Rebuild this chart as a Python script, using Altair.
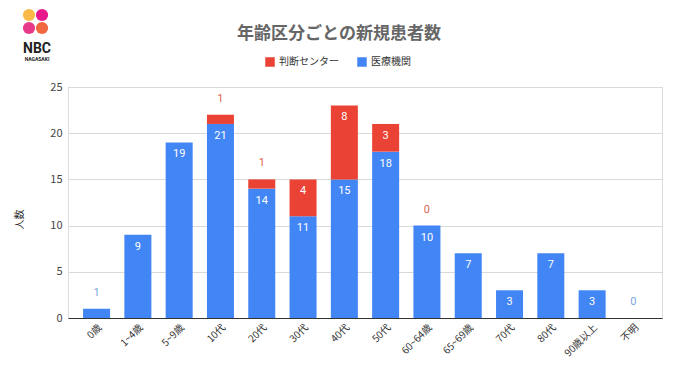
import altair as alt
import pandas as pd

categories = ["0歳", "1~4歳", "5~9歳", "10代", "20代", "30代", "40代", "50代",
              "60~64歳", "65~69歳", "70代", "80代", "90歳以上", "不明"]
medical = [1, 9, 19, 21, 14, 11, 15, 18, 10, 7, 3, 7, 3, 0]
center = [0, 0, 0, 1, 1, 4, 8, 3, 0, 0, 0, 0, 0, 0]
center_labels = ["", "", "", "1", "1", "4", "8", "3", "0", "", "", "", "", ""]

S_CENTER = "判断センター"
S_MED = "医療機関"
RED = "#ea4335"
BLUE = "#4285f4"
FONT = "Noto Sans CJK JP"

rows = []
for c, m, r in zip(categories, medical, center):
    rows.append({"category": c, "series": S_MED, "value": m, "order": 0})
    rows.append({"category": c, "series": S_CENTER, "value": r, "order": 1})
bars_df = pd.DataFrame(rows)

lab = []
for c, m, r, rl in zip(categories, medical, center, center_labels):
    lab.append({"category": c, "series": S_MED, "y": m, "text": str(m),
                "inside": m >= 2})
    if rl != "":
        lab.append({"category": c, "series": S_CENTER, "y": m + r, "text": rl,
                    "inside": r >= 2})
lab_df = pd.DataFrame(lab)

x_enc = alt.X("category:N", sort=categories, title=None,
              scale=alt.Scale(paddingInner=0.346, paddingOuter=0.365),
              axis=alt.Axis(labelAngle=-45, ticks=False, domainColor="#333333",
                            labelColor="#333333", labelFontSize=10, labelFont=FONT,
                            labelPadding=4, grid=False))
y_scale = alt.Scale(domain=[0, 25])

bars = alt.Chart(bars_df).mark_bar().encode(
    x=x_enc,
    y=alt.Y("sum(value):Q", stack="zero", scale=y_scale, title="人数",
            axis=alt.Axis(values=[0, 5, 10, 15, 20, 25], domain=False, ticks=False,
                          gridColor="#d9d9d9", labelColor="#444444", labelFontSize=11,
                          labelPadding=6, titleFont=FONT, titleFontSize=10,
                          titleFontWeight="normal", titleColor="#333333",
                          titleX=-44, titleY=132, titleAngle=270)),
    color=alt.Color("series:N", title=None,
                    scale=alt.Scale(domain=[S_CENTER, S_MED], range=[RED, BLUE]),
                    legend=alt.Legend(orient="none", direction="horizontal",
                                      legendX=197, legendY=-30, symbolType="square",
                                      symbolSize=90, symbolStrokeWidth=0,
                                      labelFont=FONT, labelFontSize=10,
                                      labelColor="#333333", columnPadding=18)),
    order=alt.Order("order:Q"),
)

inside = alt.Chart(lab_df).transform_filter(alt.datum.inside).mark_text(
    dy=12, color="white", fontSize=11, font="Roboto"
).encode(x=alt.X("category:N", sort=categories), y=alt.Y("y:Q", scale=y_scale),
         text="text:N")

outside = alt.Chart(lab_df).transform_filter(~alt.datum.inside).mark_text(
    dy=-16, fontSize=11, font="Roboto"
).encode(x=alt.X("category:N", sort=categories), y=alt.Y("y:Q", scale=y_scale),
         text="text:N",
         color=alt.condition(alt.datum.series == S_MED, alt.value("#7ba3e0"),
                             alt.value("#e0664e")))

one = pd.DataFrame({"a": [0]})
deco = []
for (cx, cy, col) in [(-39, -72, "#f9b233"), (-26, -72, "#e6007e"),
                      (-39, -59, "#e4237d"), (-26, -59, "#f0562a")]:
    deco.append(alt.Chart(one).mark_circle(size=150, opacity=0.9, color=col)
                .encode(x=alt.value(cx), y=alt.value(cy)))
deco.append(alt.Chart(one).mark_text(text="NBC", font="Roboto", fontSize=14,
                                     fontWeight="bold", color="#222222")
            .encode(x=alt.value(-31), y=alt.value(-38)))
deco.append(alt.Chart(one).mark_text(text="NAGASAKI", font="Roboto", fontSize=5,
                                     fontWeight="bold", color="#222222")
            .encode(x=alt.value(-31), y=alt.value(-28)))
deco.append(alt.Chart(one).mark_text(text="年齢区分ごとの新規患者数", font=FONT,
                                     fontSize=17, fontWeight="bold", color="#666666",
                                     align="center", baseline="middle")
            .encode(x=alt.value(271), y=alt.value(-53)))

chart = alt.layer(bars, inside, outside, *deco).properties(
    width=594, height=231,
    padding={"left": 60, "top": 79, "right": 10, "bottom": 56},
    autosize=alt.AutoSizeParams(type="none"),
).configure_view(stroke=None).configure(font=FONT)

chart.save("out.html", embed_options={"renderer": "svg", "actions": False})
